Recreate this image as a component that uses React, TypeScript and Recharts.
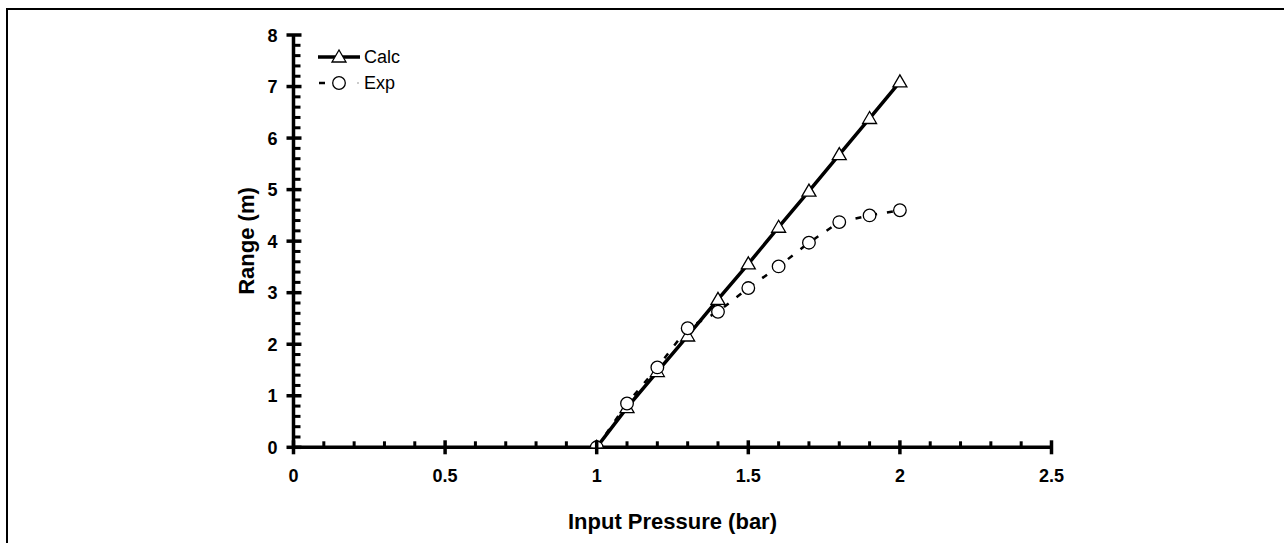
import React from "react";
import { LineChart, Line, XAxis, YAxis } from "recharts";

const pressure = [1.0, 1.1, 1.2, 1.3, 1.4, 1.5, 1.6, 1.7, 1.8, 1.9, 2.0];
const calcRange = [0, 0.77, 1.47, 2.16, 2.87, 3.56, 4.27, 4.97, 5.68, 6.38, 7.09];
const expRange = [0, 0.85, 1.55, 2.31, 2.63, 3.09, 3.51, 3.97, 4.37, 4.5, 4.6];

const xTicks = [0, 0.1, 0.2, 0.3, 0.4, 0.5, 0.6, 0.7, 0.8, 0.9, 1, 1.1, 1.2, 1.3, 1.4, 1.5, 1.6, 1.7, 1.8, 1.9, 2, 2.1, 2.2, 2.3, 2.4, 2.5];
const xMajor = [0, 0.5, 1, 1.5, 2, 2.5];
const yTicks = [0, 0.2, 0.4, 0.6, 0.8, 1, 1.2, 1.4, 1.6, 1.8, 2, 2.2, 2.4, 2.6, 2.8, 3, 3.2, 3.4, 3.6, 3.8, 4, 4.2, 4.4, 4.6, 4.8, 5, 5.2, 5.4, 5.6, 5.8, 6, 6.2, 6.4, 6.6, 6.8, 7, 7.2, 7.4, 7.6, 7.8, 8];
const yMajor = [0, 1, 2, 3, 4, 5, 6, 7, 8];
const seriesNames = ["Calc", "Exp"];

const calcData = pressure.map((p, i) => ({ p, v: calcRange[i] }));
const expData = pressure.map((p, i) => ({ p, v: expRange[i] }));

const FONT = "'Liberation Sans', Arial, sans-serif";

const isMajor = (v: number, list: number[]) => list.some((m) => Math.abs(m - v) < 1e-6);

const XTick = (props: any) => {
  const { x, y, payload } = props;
  const v = payload.value;
  const major = isMajor(v, xMajor);
  return (
    <g>
      {major ? (
        <line x1={x} x2={x} y1={y - 7} y2={y + 7} stroke="#000" strokeWidth={3.5} />
      ) : (
        <line x1={x} x2={x} y1={y - 6} y2={y} stroke="#000" strokeWidth={3} />
      )}
      {major && (
        <text x={x} y={y + 35} textAnchor="middle" fontFamily={FONT} fontWeight="bold" fontSize={18} fill="#000">
          {String(v)}
        </text>
      )}
    </g>
  );
};

const YTick = (props: any) => {
  const { x, y, payload } = props;
  const v = payload.value;
  const major = isMajor(v, yMajor);
  return (
    <g>
      {major ? (
        <line x1={x - 7} x2={x + 8} y1={y} y2={y} stroke="#000" strokeWidth={3.5} />
      ) : (
        <line x1={x} x2={x + 7} y1={y} y2={y} stroke="#000" strokeWidth={3} />
      )}
      {major && (
        <text x={x - 16} y={y + 6.5} textAnchor="end" fontFamily={FONT} fontWeight="bold" fontSize={18} fill="#000">
          {String(v)}
        </text>
      )}
    </g>
  );
};

const TriangleDot = (props: any) => {
  const { cx, cy } = props;
  if (cx == null || cy == null) return null;
  return (
    <polygon
      points={`${cx},${cy - 7} ${cx - 7},${cy + 5} ${cx + 7},${cy + 5}`}
      fill="#fff"
      stroke="#000"
      strokeWidth={1.3}
    />
  );
};

const CircleDot = (props: any) => {
  const { cx, cy } = props;
  if (cx == null || cy == null) return null;
  return <circle cx={cx} cy={cy} r={6.3} fill="#fff" stroke="#000" strokeWidth={1.3} />;
};

const LegendBox = () => (
  <svg width={110} height={50} style={{ position: "absolute", left: 316, top: 47, display: "block" }}>
    <line x1={2} x2={44} y1={10} y2={10} stroke="#000" strokeWidth={3.5} />
    <polygon points="23,3 16,15 30,15" fill="#fff" stroke="#000" strokeWidth={1.3} />
    <text x={48} y={16} fontFamily={FONT} fontSize={18} fill="#000">{seriesNames[0]}</text>
    <line x1={3} x2={9} y1={36} y2={36} stroke="#000" strokeWidth={2.5} />
    <circle cx={23} cy={36} r={6.3} fill="#fff" stroke="#000" strokeWidth={1.3} />
    <line x1={41} x2={43} y1={36} y2={36} stroke="#bbb" strokeWidth={1.5} />
    <text x={48} y={42} fontFamily={FONT} fontSize={18} fill="#000">{seriesNames[1]}</text>
  </svg>
);

export default function App() {
  return (
    <div style={{ position: "absolute", left: 0, top: 0, width: 1284, height: 543, background: "#fff", overflow: "hidden" }}>
      <div
        style={{
          position: "absolute",
          left: 5.5,
          top: 7.5,
          width: 1400,
          height: 700,
          borderTop: "2px solid #000",
          borderLeft: "2px solid #000",
        }}
      />
      <div style={{ position: "absolute", left: 0, top: 0 }}>
        <LineChart width={1284} height={543} margin={{ top: 35, right: 232.5, left: 233.5, bottom: 55.7 }}>
          <XAxis
            type="number"
            dataKey="p"
            domain={[0, 2.5]}
            ticks={xTicks}
            interval={0}
            tickSize={0}
            tickMargin={0}
            tickLine={false}
            tick={<XTick />}
            height={40}
            axisLine={{ stroke: "#000", strokeWidth: 3.5 }}
            allowDataOverflow
          />
          <YAxis
            type="number"
            dataKey="v"
            domain={[0, 8]}
            ticks={yTicks}
            interval={0}
            tickSize={0}
            tickMargin={0}
            tickLine={false}
            tick={<YTick />}
            width={60}
            axisLine={{ stroke: "#000", strokeWidth: 3.5 }}
            allowDataOverflow
          />
          <Line
            data={calcData}
            dataKey="v"
            name={seriesNames[0]}
            type="linear"
            stroke="#000"
            strokeWidth={3.5}
            dot={<TriangleDot />}
            activeDot={false}
            isAnimationActive={false}
          />
          <Line
            data={expData}
            dataKey="v"
            name={seriesNames[1]}
            type="linear"
            stroke="#000"
            strokeWidth={2.5}
            strokeDasharray="6 10"
            dot={<CircleDot />}
            activeDot={false}
            isAnimationActive={false}
          />
        </LineChart>
      </div>
      <LegendBox />
      <div
        style={{
          position: "absolute",
          left: 293.5,
          width: 758,
          top: 507,
          textAlign: "center",
          fontFamily: FONT,
          fontWeight: "bold",
          fontSize: 22,
          lineHeight: "30px",
        }}
      >
        Input Pressure (bar)
      </div>
      <div
        style={{
          position: "absolute",
          left: 247,
          top: 241,
          transform: "translate(-50%, -50%) rotate(-90deg)",
          fontFamily: FONT,
          fontWeight: "bold",
          fontSize: 22,
          whiteSpace: "nowrap",
        }}
      >
        Range (m)
      </div>
    </div>
  );
}
